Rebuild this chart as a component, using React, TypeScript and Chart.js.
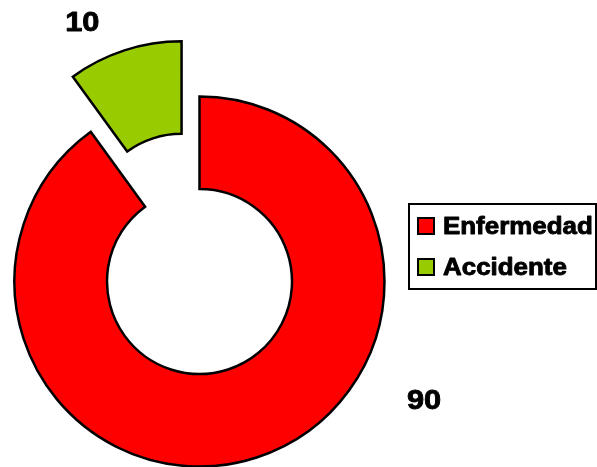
import React, { useEffect, useRef } from "react";
import { Chart, registerables } from "chart.js";

Chart.register(...registerables);

const categories = ["Enfermedad", "Accidente"];
const values = [90, 10];
const valueLabels = ["90", "10"];
const colors = ["#FF0000", "#99CC00"];

const FONT = '"Liberation Sans", Arial, sans-serif';

const explodePlugin = {
  id: "explodeSlices",
  afterDatasetsUpdate(chart: any, _args: any, opts: any) {
    const meta = chart.getDatasetMeta(0);
    const dist: number[] = opts.distances || [];
    meta.data.forEach((arc: any, i: number) => {
      const d = dist[i] || 0;
      if (!d) return;
      const mid = (arc.startAngle + arc.endAngle) / 2;
      arc.x += Math.cos(mid) * d;
      arc.y += Math.sin(mid) * d;
    });
  },
};

function drawStretchedText(ctx: CanvasRenderingContext2D, text: string, x: number, y: number, sx: number, align: CanvasTextAlign) {
  ctx.save();
  ctx.translate(x, y);
  ctx.scale(sx, 1);
  ctx.textAlign = align;
  ctx.lineWidth = 0.9;
  ctx.strokeStyle = "#000";
  ctx.lineJoin = "round";
  ctx.strokeText(text, 0, 0);
  ctx.fillText(text, 0, 0);
  ctx.restore();
}

const labelsPlugin = {
  id: "valueLabels",
  afterDraw(chart: any, _args: any, opts: any) {
    const ctx: CanvasRenderingContext2D = chart.ctx;
    const meta = chart.getDatasetMeta(0);
    const cx = (chart.chartArea.left + chart.chartArea.right) / 2;
    const cy = (chart.chartArea.top + chart.chartArea.bottom) / 2;
    ctx.save();
    ctx.fillStyle = "#000";
    ctx.font = `bold ${opts.size}px ${FONT}`;
    ctx.textBaseline = "middle";
    meta.data.forEach((arc: any, i: number) => {
      const mid = (arc.startAngle + arc.endAngle) / 2 + opts.angleShift[i];
      const r = arc.outerRadius * opts.radiusFactor[i];
      const x = cx + Math.cos(mid) * r;
      const y = cy + Math.sin(mid) * r;
      drawStretchedText(ctx, valueLabels[i], x, y, opts.stretch, "center");
    });
    ctx.restore();
  },
};

const legendPlugin = {
  id: "boxLegend",
  afterDraw(chart: any, _args: any, opts: any) {
    const ctx: CanvasRenderingContext2D = chart.ctx;
    const ds = chart.data.datasets[0];
    ctx.save();
    ctx.strokeStyle = "#000";
    ctx.lineWidth = 2;
    ctx.strokeRect(opts.x, opts.y, opts.w, opts.h);
    ctx.font = `bold ${opts.size}px ${FONT}`;
    ctx.textBaseline = "middle";
    chart.data.labels.forEach((lab: string, i: number) => {
      const yc = opts.firstY + i * opts.rowGap;
      ctx.fillStyle = ds.backgroundColor[i];
      ctx.fillRect(opts.boxX, yc - opts.box / 2, opts.box, opts.box);
      ctx.lineWidth = 2;
      ctx.strokeStyle = "#000";
      ctx.strokeRect(opts.boxX, yc - opts.box / 2, opts.box, opts.box);
      ctx.fillStyle = "#000";
      drawStretchedText(ctx, lab, opts.textX, yc + 1, opts.stretch, "left");
    });
    ctx.restore();
  },
};

export default function App() {
  const ref = useRef<HTMLCanvasElement | null>(null);
  useEffect(() => {
    if (!ref.current) return;
    const chart = new Chart(ref.current, {
      type: "doughnut",
      data: {
        labels: categories,
        datasets: [
          {
            data: values,
            backgroundColor: colors,
            borderColor: "#000000",
            borderWidth: 2.5,
            borderJoinStyle: "miter",
          } as any,
        ],
      },
      options: {
        responsive: false,
        maintainAspectRatio: false,
        animation: false,
        events: [],
        radius: 185,
        cutout: "50%",
        layout: { padding: { left: 0, right: 198, top: 96, bottom: 0 } },
        plugins: {
          legend: { display: false },
          tooltip: { enabled: false },
          explodeSlices: { distances: [0, 58] },
          valueLabels: {
            size: 28,
            stretch: 1.1,
            angleShift: [-0.766, -0.112],
            radiusFactor: [1.376, 1.533],
          },
          boxLegend: {
            x: 409,
            y: 204,
            w: 187,
            h: 85,
            size: 24,
            stretch: 1.08,
            box: 16,
            boxX: 418,
            firstY: 226,
            rowGap: 41,
            textX: 443,
          },
        } as any,
      },
      plugins: [explodePlugin, labelsPlugin, legendPlugin],
    });
    return () => chart.destroy();
  }, []);
  return (
    <div style={{ position: "fixed", left: 0, top: 0, width: 597, height: 467, background: "#fff" }}>
      <canvas ref={ref} width={597} height={467} style={{ display: "block", width: 597, height: 467 }} />
    </div>
  );
}
